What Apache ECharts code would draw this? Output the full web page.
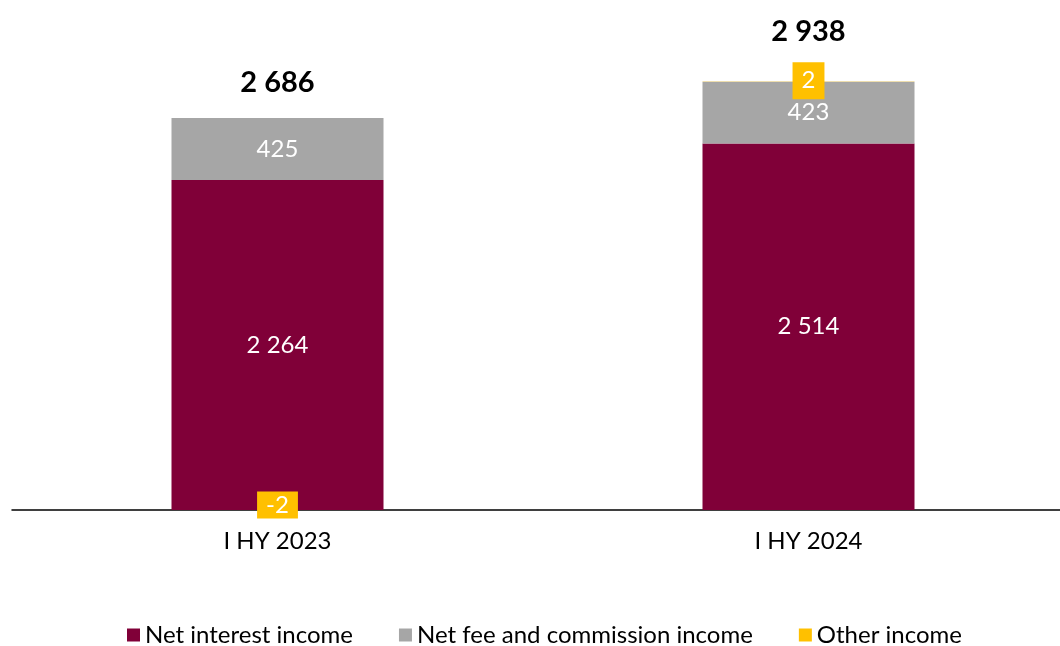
<!DOCTYPE html>
<html>
<head>
<meta charset="utf-8">
<script src="https://cdn.jsdelivr.net/npm/echarts@6/dist/echarts.min.js"></script>
<style>
  html, body { margin: 0; padding: 0; background: #fff; }
  #chart { width: 1060px; height: 646px; }
</style>
</head>
<body>
<div id="chart"></div>
<script>
// Income breakdown by half-year
const categories = ['I HY 2023', 'I HY 2024'];
const netInterestIncome = [2264, 2514];
const netFeeCommission = [425, 423];
const otherIncome = [-2, 2];
const totals = [2686, 2938];

const FONT = 'Lato, "Open Sans", sans-serif';
const fmt = v => String(Math.round(v)).replace(/\B(?=(\d{3})+(?!\d))/g, ' ');

const chart = echarts.init(document.getElementById('chart'));

chart.setOption({
  animation: false,
  textStyle: { fontFamily: FONT },
  grid: { left: 12, width: 1062, top: 10, bottom: 136, outerBoundsMode: 'none', containLabel: false },
  legend: {
    data: ['Net interest income', 'Net fee and commission income', 'Other income'],
    bottom: -6,
    left: 122,
    itemWidth: 13,
    itemHeight: 13,
    itemGap: 46,
    icon: 'rect',
    textStyle: { fontFamily: FONT, fontSize: 24, color: '#000' }
  },
  xAxis: {
    type: 'category',
    data: categories,
    axisLine: { lineStyle: { color: '#000', width: 1.5 } },
    axisTick: { show: false },
    axisLabel: { fontFamily: FONT, fontSize: 24, color: '#000', margin: 19 }
  },
  yAxis: {
    type: 'value',
    min: 0,
    max: 3430,
    show: false,
    splitLine: { show: false }
  },
  series: [
    {
      name: 'Net interest income',
      type: 'bar',
      stack: 'income',
      barWidth: 212,
      data: netInterestIncome,
      itemStyle: { color: '#800038' },
      label: {
        show: true, position: 'inside', color: '#fff',
        fontFamily: FONT, fontSize: 24,
        formatter: p => fmt(p.value)
      }
    },
    {
      name: 'Net fee and commission income',
      type: 'bar',
      stack: 'income',
      data: netFeeCommission,
      itemStyle: { color: '#A6A6A6' },
      label: {
        show: true, position: 'inside', color: '#fff',
        fontFamily: FONT, fontSize: 24,
        formatter: p => fmt(p.value)
      }
    },
    {
      name: 'Other income',
      type: 'bar',
      stack: 'income',
      data: [
        { value: otherIncome[0], label: { offset: [0, -5], padding: [2, 9, 1, 9] } },
        { value: otherIncome[1], label: { offset: [0, -1], padding: [7, 9, 6, 9] } }
      ],
      itemStyle: { color: '#FFC000' },
      z: 5,
      label: {
        show: true, position: 'inside', color: '#fff',
        fontFamily: FONT, fontSize: 24,
        backgroundColor: '#FFC000',
        formatter: p => String(p.value)
      }
    },
    {
      name: 'Total',
      type: 'scatter',
      symbolSize: 0,
      itemStyle: { opacity: 1 },
      data: [
        { value: totals[0], label: { offset: [0, -36] } },
        { value: totals[1], label: { offset: [0, -50] } }
      ],
      z: 10,
      emphasis: { disabled: true },
      label: {
        show: true, position: 'inside', color: '#000',
        fontFamily: FONT, fontSize: 29, fontWeight: 'bold',
        formatter: p => fmt(p.value)
      }
    }
  ]
});
</script>
</body>
</html>
